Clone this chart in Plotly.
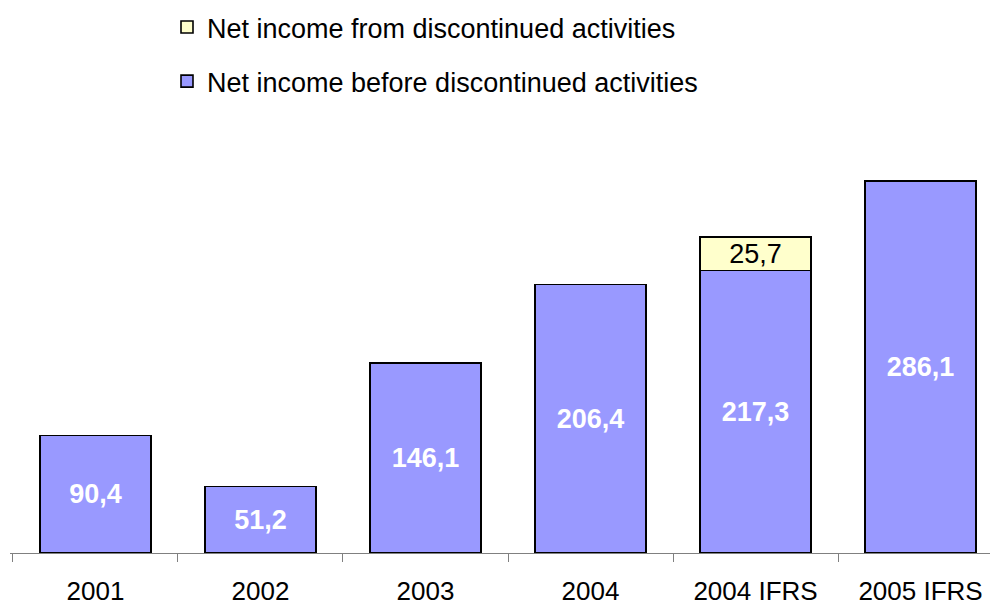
import plotly.graph_objects as go

# Net income by reporting period (millions), comma as decimal separator
periods = ["2001", "2002", "2003", "2004", "2004 IFRS", "2005 IFRS"]
before_discontinued = [90.4, 51.2, 146.1, 206.4, 217.3, 286.1]
from_discontinued = [None, None, None, None, 25.7, None]

name_before = "Net income before discontinued activities"
name_from = "Net income from discontinued activities"

BLUE = "#9999FF"
YELLOW = "#FFFFCC"
FONT = "Liberation Sans, Arial, sans-serif"

fig = go.Figure()

fig.add_trace(go.Bar(
    x=periods,
    y=before_discontinued,
    name=name_before,
    legendgroup="before",
    legendrank=2,
    marker=dict(color=BLUE, line=dict(color="black", width=1.6)),
    texttemplate="%{y:.1f}",
    textposition="inside",
    insidetextanchor="middle",
    textangle=0,
    constraintext="none",
    textfont=dict(family=FONT, size=27, color="white", weight="bold"),
    width=0.67,
))

fig.add_trace(go.Bar(
    x=periods,
    y=from_discontinued,
    name=name_from,
    legendgroup="from",
    legendrank=1,
    marker=dict(color=YELLOW, line=dict(color="black", width=1.6)),
    texttemplate="%{y:.1f}",
    textposition="inside",
    insidetextanchor="middle",
    textangle=0,
    constraintext="none",
    textfont=dict(family=FONT, size=27, color="black"),
    width=0.67,
))

PLOT_H = 553  # paper height (top margin zero); plot area sits in lower part

fig.update_layout(
    width=990,
    height=605,
    barmode="stack",
    separators=",.",
    paper_bgcolor="white",
    plot_bgcolor="white",
    margin=dict(l=10, r=0, t=0, b=52, autoexpand=False),
    font=dict(family=FONT, size=26, color="black"),
    showlegend=True,
    legend=dict(
        traceorder="grouped",
        tracegroupgap=16,
        x=157 / 980,
        y=1 - 3 / PLOT_H,
        xanchor="left",
        yanchor="top",
        font=dict(family=FONT, size=27, color="black"),
        bgcolor="rgba(0,0,0,0)",
        itemwidth=30,
    ),
    xaxis=dict(
        type="category",
        range=[-0.518, 5.421],
        domain=[0, 1],
        showline=True,
        linecolor="#808080",
        linewidth=1.2,
        ticks="outside",
        tickson="boundaries",
        ticklen=8,
        tickcolor="#808080",
        tickwidth=1.2,
        showgrid=False,
        tickangle=0,
        tickfont=dict(family=FONT, size=26, color="black"),
        ticklabelstandoff=15,
    ),
    yaxis=dict(
        range=[0, 433 / 1.3],
        domain=[0, 433 / PLOT_H],
        visible=False,
        showgrid=False,
        zeroline=False,
    ),
)

fig.write_html("out.html")
